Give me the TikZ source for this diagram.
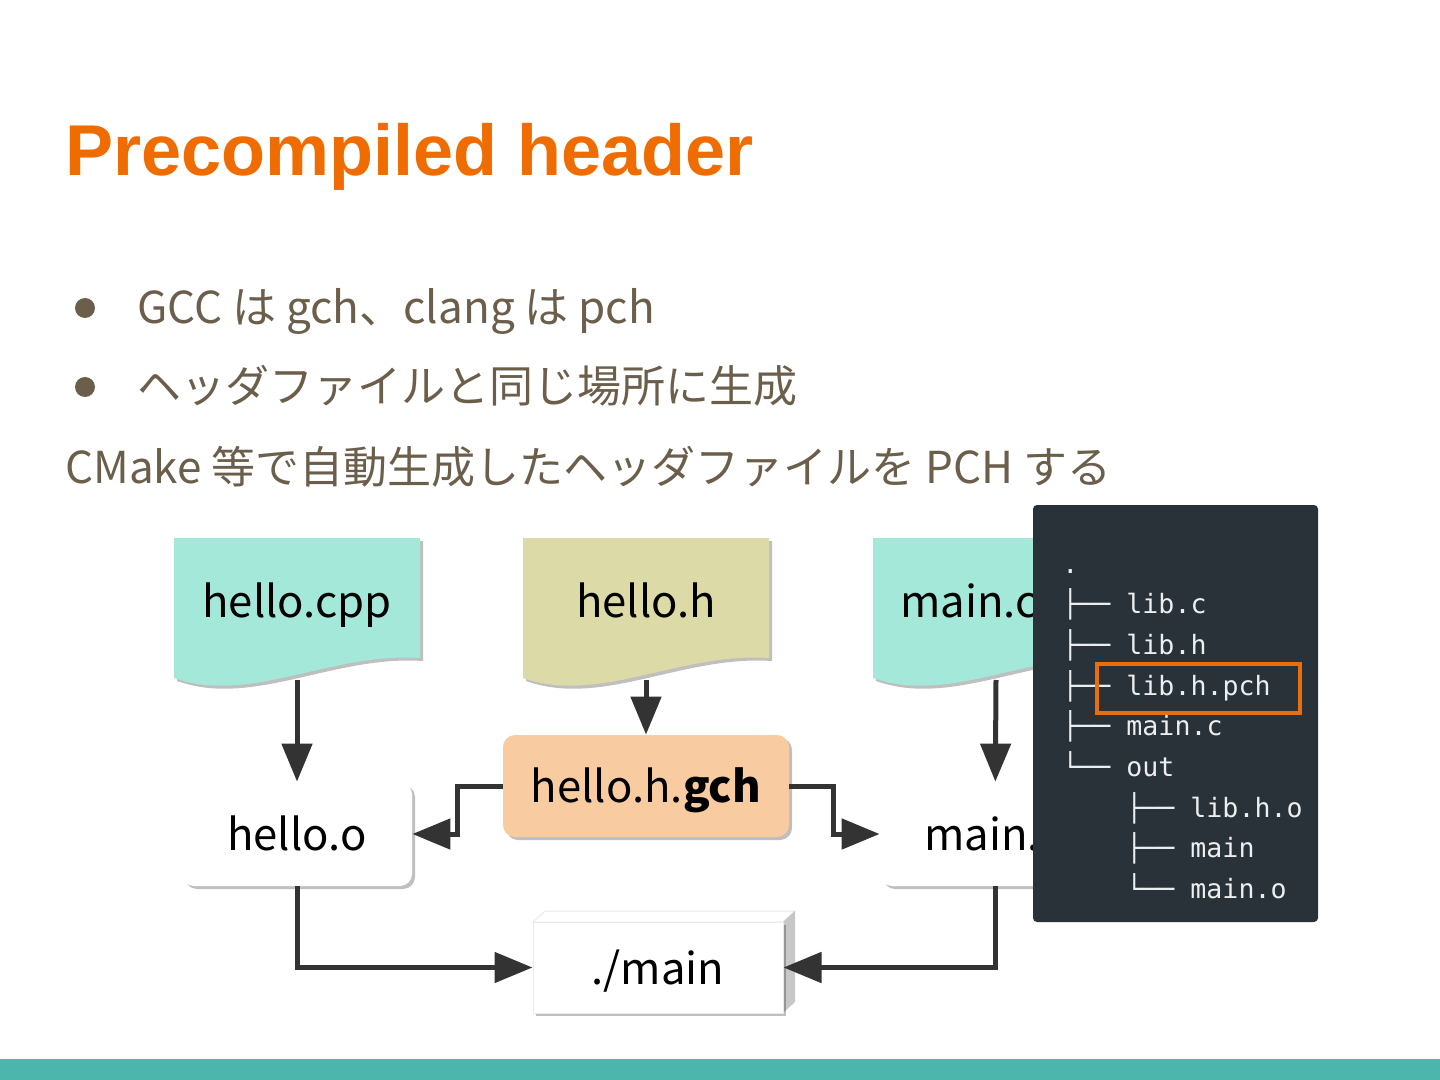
\documentclass[tikz,border=0pt]{standalone}
\usepackage{fontspec}
\setmainfont{Noto Sans CJK JP}
\newfontfamily\titlefont{Liberation Sans}
\newfontfamily\termfont{DejaVu Sans Mono}
\usetikzlibrary{arrows.meta,shadows}
\definecolor{titleorange}{HTML}{EF6C00}
\definecolor{bodytext}{HTML}{6B5F4B}
\definecolor{srcmint}{HTML}{A3E8D8}
\definecolor{hdrkhaki}{HTML}{DCDBA8}
\definecolor{pchpeach}{HTML}{F8CBA0}
\definecolor{termbg}{HTML}{283238}
\definecolor{termfg}{HTML}{ECEEEF}
\definecolor{hlorange}{HTML}{EA6E0C}
\definecolor{barteal}{HTML}{4DB6AC}
\definecolor{arrowgray}{HTML}{333333}
\begin{document}
\begin{tikzpicture}[x=0.5pt, y=-0.5pt,
    softshadow/.style={drop shadow={shadow xshift=1.5pt, shadow yshift=-1.5pt, opacity=0.25, fill=black}},
    bodyline/.style={anchor=base west, inner sep=0pt, text=bodytext, font=\fontsize{22}{26}\selectfont},
    label/.style={inner sep=0pt, font=\fontsize{21.8}{26}\selectfont},
    objbox/.style={label, fill=white, rounded corners=6pt, minimum width=115pt, minimum height=52pt,
      text height=16.5pt, text depth=0pt, softshadow},
    flow/.style={draw=arrowgray, line width=2.5pt, -{Triangle[length=19pt, width=15pt]}},
    treeline/.style={anchor=base west, inner sep=0pt, text=termfg, font=\termfont\fontsize{13.3}{16}\selectfont}]
  \useasboundingbox (0,0) rectangle (1440,1080);
  \fill[white] (0,0) rectangle (1440,1080);
  % slide text
  \node[anchor=base west, inner sep=0pt, text=titleorange, font=\titlefont\bfseries\fontsize{36}{40}\selectfont]
    (title) at (65,176) {Precompiled header};
  \foreach \y/\txt/\nm in {324/{GCC は gch、clang は pch}/bul1, 403/{ヘッダファイルと同じ場所に生成}/bul2} {
    \fill[bodytext] (85,\y-16) circle [radius=5pt];
    \node[bodyline] (\nm) at (137,\y) {\txt};
  }
  \node[bodyline] (note) at (65,483) {CMake 等で自動生成したヘッダファイルを PCH する};
  % source files
  \foreach \x/\col/\txt/\nm in {174/srcmint/hello.cpp/cpp, 523/hdrkhaki/hello.h/hh, 873/srcmint/main.cpp/mcpp} {
    \fill[\col, softshadow] (\x,538) -- (\x+246,538) -- (\x+246,658)
      .. controls (\x+156,652) and (\x+76,705) .. (\x,678) -- cycle;
    \node[label, anchor=base] (\nm) at (\x+123,617) {\txt};
    \coordinate (\nm-b) at (\x+123,680);
  }
  % build products
  \node[objbox] (helloo) at (297,834) {hello.o};
  \node[objbox] (maino) at (995,834) {main.o};
  \node[objbox, fill=pchpeach, minimum width=143pt, minimum height=51pt] (gch) at (646,786) {hello.h.\textbf{gch}};
  \fill[white, draw=black!8, line width=0.5pt] (533,922) -- (545,911) -- (795,911) -- (783,922) -- cycle;
  \fill[black!22] (783,922) -- (795,911) -- (795,1002) -- (783,1013) -- cycle;
  \node[objbox, rounded corners=0pt, draw=black!8, line width=0.5pt, minimum width=125pt, minimum height=45.5pt]
    (exe) at (658,967.5) {./main};
  \draw[flow] (cpp-b) -- (helloo);
  \draw[flow] (hh-b) -- (gch);
  \draw[flow] (mcpp-b) -- (maino);
  \draw[flow] (gch.west) -- ++(-45,0) |- (helloo.east);
  \draw[flow] (gch.east) -- ++(44,0) |- (maino.west);
  \draw[flow] (helloo.south) |- (exe.west);
  \draw[flow] (maino.south) |- (exe.east);
  % tree output
  \fill[termbg, rounded corners=2pt] (1033,505) rectangle (1318,922);
  \foreach \i/\ind/\ln in {0/0/., 1/0/├── lib.c, 2/0/├── lib.h, 3/0/├── lib.h.pch, 4/0/├── main.c,
      5/0/└── out, 6/64/├── lib.h.o, 7/64/├── main, 8/64/└── main.o}
    \node[treeline] (tree\i) at (1062+\ind,573+40.7*\i) {\ln};
  \draw[hlorange, line width=2pt] (1097,664) rectangle (1300,713);
  \fill[barteal] (0,1059) rectangle (1440,1080);
\end{tikzpicture}
\end{document}
